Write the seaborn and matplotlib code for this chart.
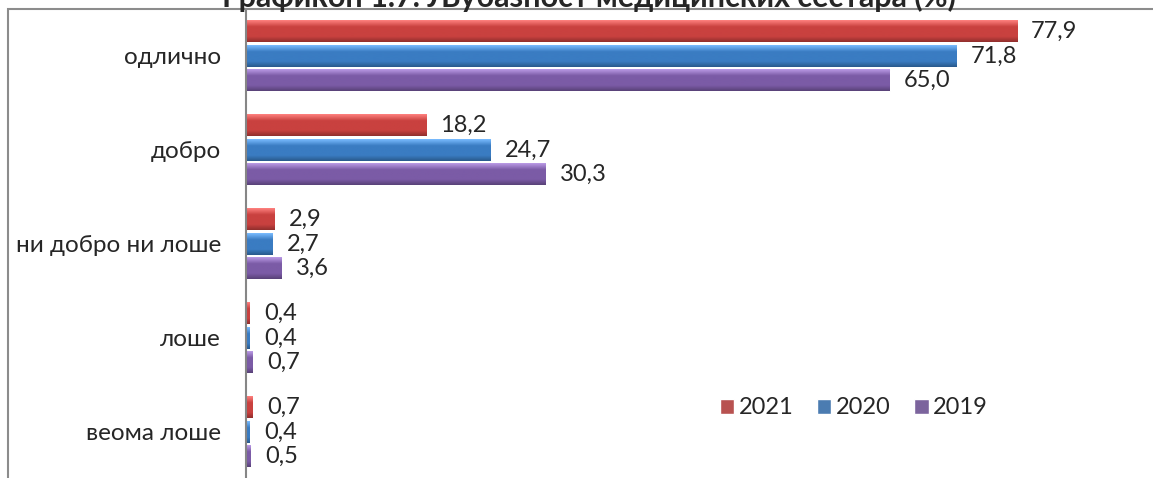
import numpy as np
import pandas as pd
import seaborn as sns
import matplotlib.pyplot as plt
from matplotlib.colors import LinearSegmentedColormap, to_rgb
from matplotlib.patches import Rectangle

categories = ["одлично", "добро", "ни добро ни лоше", "лоше", "веома лоше"]
years = ["2021", "2020", "2019"]
v2021 = [77.9, 18.2, 2.9, 0.4, 0.7]
v2020 = [71.8, 24.7, 2.7, 0.4, 0.4]
v2019 = [65.0, 30.3, 3.6, 0.7, 0.5]
title = "Графикон 1.7. Љубазност медицинских сестара (%)"

colors = ["#C9413F", "#3A7CC2", "#7B5BA6"]

df = pd.DataFrame({
    "category": categories * 3,
    "year": [y for y in years for _ in categories],
    "value": v2021 + v2020 + v2019,
})

sns.set_style("white")
plt.rcParams["font.family"] = ["Lato", "DejaVu Sans"]

fig = plt.figure(figsize=(11.53, 4.78), dpi=100)
ax = fig.add_axes([246 / 1153, -1 / 478, 891 / 1153, 470 / 478])

sns.barplot(data=df, y="category", x="value", hue="year", orient="h",
            order=categories, hue_order=years, palette=colors,
            width=0.78, gap=0.14, ax=ax, zorder=2)

# bevel-like shading on each bar, built from the bar's own geometry
def shade(c):
    r = np.array(to_rgb(c))
    light = np.clip(r + 0.25, 0, 1)
    dark = r * 0.72
    return LinearSegmentedColormap.from_list(
        "b", [(0, light), (0.3, r), (0.75, r), (1, dark)])

for cont, col in zip(ax.containers, colors):
    cmap = shade(col)
    grad = np.linspace(0, 1, 64).reshape(-1, 1)
    for p in cont.patches:
        x0, y0 = p.get_x(), p.get_y()
        w, h = p.get_width(), p.get_height()
        ax.imshow(grad, cmap=cmap, aspect="auto", zorder=3,
                  extent=[x0, x0 + w, y0 + h, y0], interpolation="bilinear")
    labels = [f"{v:.1f}".replace(".", ",") for v in cont.datavalues]
    ax.bar_label(cont, labels=labels, padding=10, fontsize=17, zorder=4)

ax.set_xlim(0, 90)
ax.set_ylim(4.5, -0.5)
ax.set_xlabel("")
ax.set_ylabel("")
ax.set_xticks([])
ax.tick_params(axis="y", length=0, pad=18, labelsize=17.5)
for s in ["top", "right", "bottom"]:
    ax.spines[s].set_visible(False)
ax.spines["left"].set_color("#868686")
ax.spines["left"].set_linewidth(1.5)
ax.spines["left"].set_zorder(5)

ax.legend(loc="center", bbox_to_anchor=(608 / 891, 1 - 399 / 470),
          ncol=3, frameon=False, fontsize=17, handlelength=0.6,
          handleheight=0.6, handletextpad=0.2, columnspacing=1.0,
          borderaxespad=0)

# chart area border (cut off at right and bottom)
fig.patches.append(Rectangle((8 / 1153, -0.1), 1.2, 1.1 - 9 / 478,
                             transform=fig.transFigure, fill=False,
                             edgecolor="#8C8C8C", linewidth=1.5))

fig.text(589 / 1153, 1 - 7 / 478, title, ha="center", va="baseline",
         fontsize=22, fontweight="bold")

fig.savefig("out.png", dpi=100)
